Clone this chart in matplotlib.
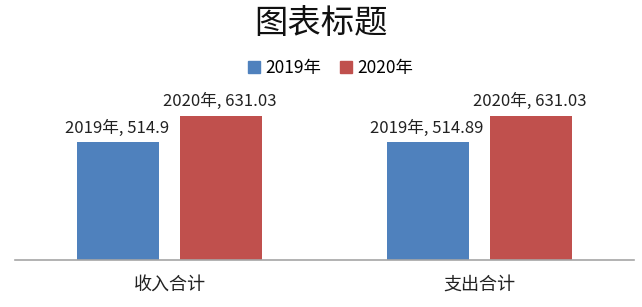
import matplotlib
matplotlib.use("Agg")
import matplotlib.pyplot as plt
import numpy as np
from matplotlib.patches import Patch

plt.rcParams['font.family'] = ['Noto Sans CJK SC', 'DejaVu Sans']

categories = ["收入合计", "支出合计"]
series_names = ["2019年", "2020年"]
values_2019 = [514.9, 514.89]
values_2020 = [631.03, 631.03]
label_2019 = ["514.9", "514.89"]
label_2020 = ["631.03", "631.03"]
colors = ["#4F81BD", "#C0504D"]

fig = plt.figure(figsize=(6.42, 3.07), dpi=100)
ax = fig.add_axes([0.023, 0.153, 0.965, 0.555])

x = np.arange(len(categories))
w = 0.265
off = 0.166
b1 = ax.bar(x - off, values_2019, w, color=colors[0])
b2 = ax.bar(x + off, values_2020, w, color=colors[1])

for bars, name, labs in ((b1, series_names[0], label_2019), (b2, series_names[1], label_2020)):
    for r, lab in zip(bars, labs):
        ax.annotate(f"{name}, {lab}", (r.get_x() + r.get_width() / 2, r.get_height()),
                    xytext=(-1, 4), textcoords="offset points", ha="center", va="bottom",
                    fontsize=12, color="#222222")

ax.set_xlim(-0.5, 1.5)
ax.set_ylim(0, 745)
ax.set_xticks(x)
ax.set_xticklabels(categories, fontsize=13, color="#222222")
ax.tick_params(axis="x", length=0, pad=11)
ax.set_yticks([])
for s in ("top", "right", "left"):
    ax.spines[s].set_visible(False)
ax.spines["bottom"].set_color("#A6A6A6")
ax.spines["bottom"].set_linewidth(1.2)

fig.text(0.5, 0.925, "图表标题", ha="center", va="center", fontsize=24, color="#111111")

handles = [Patch(color=colors[0]), Patch(color=colors[1])]
fig.legend(handles, series_names, loc="center", bbox_to_anchor=(0.515, 0.778), ncol=2,
           frameon=False, fontsize=12.5, handlelength=0.7, handleheight=0.7,
           handletextpad=0.3, columnspacing=1.1)

fig.savefig("out.png", dpi=100)
